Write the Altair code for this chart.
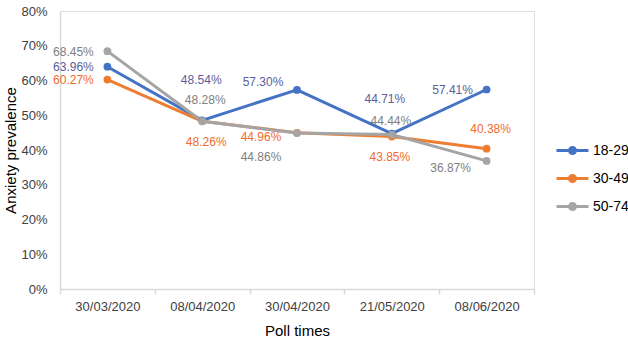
import altair as alt
import pandas as pd

dates = ["30/03/2020", "08/04/2020", "30/04/2020", "21/05/2020", "08/06/2020"]
groups = ["18-29", "30-49", "50-74"]
v_18_29 = [0.6396, 0.4854, 0.5730, 0.4471, 0.5741]
v_30_49 = [0.6027, 0.4826, 0.4496, 0.4385, 0.4038]
v_50_74 = [0.6845, 0.4828, 0.4486, 0.4444, 0.3687]
y_ticks = [0, 0.1, 0.2, 0.3, 0.4, 0.5, 0.6, 0.7, 0.8]

line_colors = ["#4472C4", "#ED7D31", "#A5A5A5"]
label_colors = ["#5B5E9A", "#F26B2A", "#808080"]

# label offsets (pixels) for each data label, per series
dx_18_29 = [-34, -1, -34, -7, -34]
dy_18_29 = [0, -40, -8, -35, 0]
dx_30_49 = [-34, 4, -36, -2, 4]
dy_30_49 = [0, 21, 4, 20, -20]
dx_50_74 = [-34, 3, -36, -1, -36]
dy_50_74 = [1, -21, 24, -14, 7]

series = [
    ("18-29", v_18_29, dx_18_29, dy_18_29, label_colors[0]),
    ("30-49", v_30_49, dx_30_49, dy_30_49, label_colors[1]),
    ("50-74", v_50_74, dx_50_74, dy_50_74, label_colors[2]),
]

rows = []
for g, vals, _, _, _ in series:
    for d, v in zip(dates, vals):
        rows.append({"date": d, "group": g, "value": v, "label": f"{v*100:.2f}%"})
df = pd.DataFrame(rows)

FONT = "Liberation Sans"

x_enc = alt.X("date:N", sort=dates, bandPosition=0.5,
              scale=alt.Scale(type="band", paddingInner=0, paddingOuter=0),
              axis=alt.Axis(title="Poll times", labelAngle=0, tickBand="extent",
                            tickSize=5, tickColor="#D9D9D9", tickWidth=1.5,
                            domainColor="#D9D9D9", domainWidth=1.5,
                            labelFont=FONT, labelFontSize=13, labelColor="#404040",
                            labelPadding=6,
                            titleFont=FONT, titleFontSize=15, titleFontWeight="normal",
                            titleColor="#000000", titleBaseline="middle", titleY=41))
y_enc = alt.Y("value:Q", scale=alt.Scale(domain=[0, 0.8], nice=False),
              axis=alt.Axis(title="Anxiety prevalence", format=".0%",
                            values=y_ticks,
                            labelOverlap=False, labelBound=False, labelFlush=False,
                            ticks=False, grid=False,
                            domainColor="#D9D9D9", domainWidth=1.5,
                            labelFont=FONT, labelFontSize=13, labelColor="#404040",
                            labelPadding=13,
                            titleFont=FONT, titleFontSize=15, titleFontWeight="normal",
                            titleColor="#000000", titleBaseline="middle", titleX=-50, titleY=139,
                            titleAngle=270))

r1, r2 = 0.3, 0.15
sym = (f"M-1.6,0L1.6,0 "
       f"M{r1},0A{r1},{r1} 0 1 1 {-r1},0A{r1},{r1} 0 1 1 {r1},0 "
       f"M{r2},0A{r2},{r2} 0 1 1 {-r2},0A{r2},{r2} 0 1 1 {r2},0")

color_enc = alt.Color("group:N", sort=groups,
                      scale=alt.Scale(domain=groups, range=line_colors),
                      legend=alt.Legend(title=None, orient="none", legendX=501, legendY=128,
                                        symbolType=sym, symbolSize=400, symbolStrokeWidth=3,
                                        labelFont=FONT, labelFontSize=14, labelColor="#000000",
                                        labelOffset=9, rowPadding=7, padding=0))

base = alt.Chart(df)
lines = base.mark_line(strokeWidth=3).encode(x=x_enc, y=y_enc, color=color_enc)
points = base.mark_circle(size=60, opacity=1).encode(x=x_enc, y=y_enc, color=color_enc)

label_layers = []
for g, vals, dxs, dys, col in series:
    for d, dx, dy in zip(dates, dxs, dys):
        label_layers.append(
            base.transform_filter(
                (alt.datum.group == g) & (alt.datum.date == d)
            ).mark_text(font=FONT, fontSize=12, dx=dx, dy=dy, color=col).encode(
                x=x_enc, y=y_enc, text="label:N")
        )

chart = alt.layer(lines, points, *label_layers).properties(
    width=474, height=278,
    autosize=alt.AutoSizeParams(type="none"),
    padding={"left": 60, "top": 11, "right": 94, "bottom": 49},
).configure_view(stroke=None).configure(background="white")

chart.save("out.html", embed_options={"renderer": "svg", "actions": False})
